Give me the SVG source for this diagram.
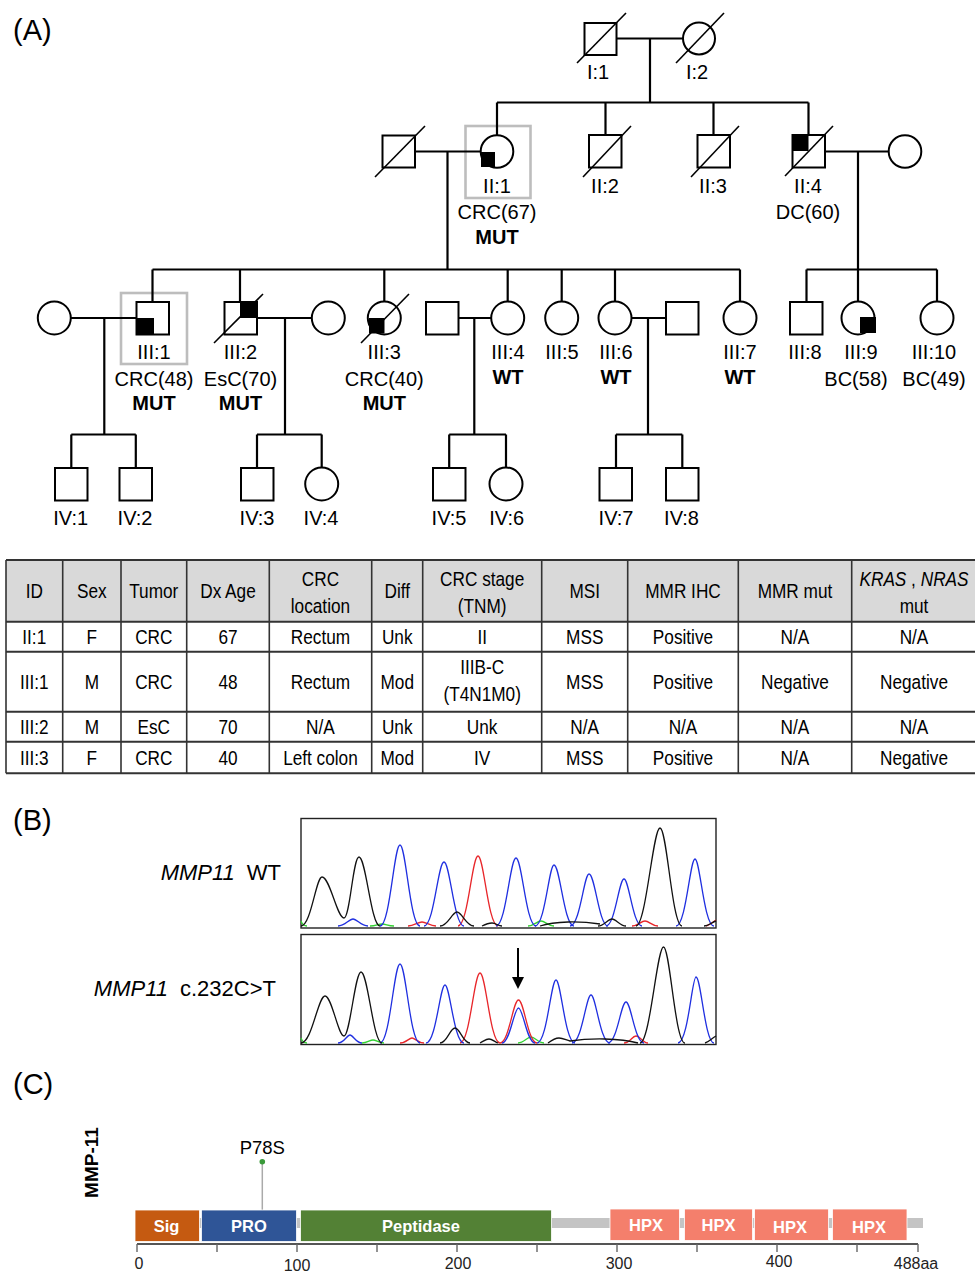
<svg xmlns="http://www.w3.org/2000/svg" width="975" height="1272" viewBox="0 0 975 1272">
<style>
text{font-family:"Liberation Sans",Arial,sans-serif;fill:#000}
.pl{font-size:29px}
.lb{font-size:20px;text-anchor:middle}
.b{font-weight:bold}
.sym{fill:#fff;stroke:#000;stroke-width:2}
.fill{fill:#000}
.sl{stroke:#000;stroke-width:1.6}
.ln{stroke:#000;stroke-width:2.2;fill:none}
.pb{fill:none;stroke:#bdbdbd;stroke-width:2.6}
.tt{font-size:20.5px;text-anchor:middle}
.tl{stroke:#333;stroke-width:2}
.tv{stroke:#333;stroke-width:1.6}
.ch{fill:none;stroke-width:1.3}
.k{stroke:#111}.bl{stroke:#1f2fe0}.rd{stroke:#e8262a}.gr{stroke:#32d232}
.dom{font-size:16.5px;font-weight:bold;fill:#fff;text-anchor:middle}
.ax{font-size:16px;fill:#222;text-anchor:middle}
</style>

<text class="pl" x="13" y="40">(A)</text>
<text class="pl" x="13" y="830">(B)</text>
<text class="pl" x="13" y="1094">(C)</text>

<!-- proband markers -->
<g id="proband-markers">
<rect class="pb" x="465.5" y="126" width="65" height="72"/>
<rect class="pb" x="121" y="293" width="66" height="71"/>
</g>

<!-- connectors -->
<g id="connectors" class="ln">
<path d="M617,38.5H683M650,38.5V102.5M497,102.5H808.5M497,102.5V135.5M605.5,102.5V135M713.5,102.5V135M808.5,102.5V135"/>
<path d="M415,151.5H481M447.5,151.5V269.5M152.5,269.5H740M152.5,269.5V302M240,269.5V302M384.3,269.5V301.5M507.7,269.5V301.5M561.7,269.5V301.5M615,269.5V301.5M740,269.5V301.5"/>
<path d="M825,151.5H889M858,151.5V269.5M806.5,269.5H937M806.5,269.5V302M858,269.5V301.5M937,269.5V301.5"/>
<path d="M71,318H136M104.3,318V434.5M71.3,434.5H135.8M71.3,434.5V468M135.8,434.5V468"/>
<path d="M257,318H312M285,318V434.5M257,434.5H321.7M257,434.5V468M321.7,434.5V467.5"/>
<path d="M458,318H491M474.3,318V434.5M449.2,434.5H506M449.2,434.5V468M506,434.5V467.5"/>
<path d="M631.5,318H666M648,318V434.5M616,434.5H682.3M616,434.5V468M682.3,434.5V468"/>
</g>

<!-- Generation I -->
<g id="I-1"><rect class="sym" x="584.5" y="23" width="32" height="32"/><line class="sl" x1="577" y1="63" x2="626" y2="13"/><text class="lb" x="598" y="79">I:1</text></g>
<g id="I-2"><circle class="sym" cx="699" cy="38.5" r="16"/><line class="sl" x1="676" y1="63" x2="724" y2="13"/><text class="lb" x="697" y="79">I:2</text></g>

<!-- Generation II -->
<g id="II-1-spouse"><rect class="sym" x="382.5" y="135.5" width="32.5" height="32"/><line class="sl" x1="375" y1="177" x2="425" y2="126"/></g>
<g id="II-1"><circle class="sym" cx="497" cy="151.5" r="16.3"/><rect class="fill" x="481" y="152" width="14" height="15"/><text class="lb" x="497" y="193">II:1</text><text class="lb" x="497" y="219">CRC(67)</text><text class="lb b" x="497" y="244">MUT</text></g>
<g id="II-2"><rect class="sym" x="589" y="135" width="32.5" height="32.5"/><line class="sl" x1="583" y1="177" x2="631" y2="126"/><text class="lb" x="605" y="193">II:2</text></g>
<g id="II-3"><rect class="sym" x="697.5" y="135" width="32.5" height="32.5"/><line class="sl" x1="691" y1="177" x2="739" y2="126"/><text class="lb" x="713" y="193">II:3</text></g>
<g id="II-4"><rect class="sym" x="792.5" y="135" width="32.5" height="32.5"/><rect class="fill" x="792.5" y="135" width="16" height="16"/><line class="sl" x1="785" y1="176" x2="833" y2="126"/><text class="lb" x="808" y="193">II:4</text><text class="lb" x="808" y="219">DC(60)</text></g>
<g id="II-4-spouse"><circle class="sym" cx="905" cy="151.5" r="16.3"/></g>

<!-- Generation III -->
<g id="III-1-spouse"><circle class="sym" cx="54.3" cy="318" r="16.5"/></g>
<g id="III-1"><rect class="sym" x="136.5" y="302" width="32.5" height="32.5"/><rect class="fill" x="136.5" y="318" width="17.5" height="16.5"/><text class="lb" x="154" y="359">III:1</text><text class="lb" x="154" y="386">CRC(48)</text><text class="lb b" x="154" y="410">MUT</text></g>
<g id="III-2"><rect class="sym" x="224.5" y="302" width="32.5" height="32.5"/><rect class="fill" x="240" y="302" width="17" height="16"/><line class="sl" x1="214" y1="343" x2="263" y2="294"/><text class="lb" x="240.5" y="359">III:2</text><text class="lb" x="240.5" y="386">EsC(70)</text><text class="lb b" x="240.5" y="410">MUT</text></g>
<g id="III-2-spouse"><circle class="sym" cx="328.3" cy="318" r="16.5"/></g>
<g id="III-3"><circle class="sym" cx="384.3" cy="318" r="16.5"/><rect class="fill" x="369" y="318" width="15.5" height="15.5"/><line class="sl" x1="361" y1="343" x2="409" y2="294"/><text class="lb" x="384.3" y="359">III:3</text><text class="lb" x="384.3" y="386">CRC(40)</text><text class="lb b" x="384.3" y="410">MUT</text></g>
<g id="III-4-spouse"><rect class="sym" x="426" y="302" width="32.5" height="32.5"/></g>
<g id="III-4"><circle class="sym" cx="507.7" cy="318" r="16.5"/><text class="lb" x="508" y="359">III:4</text><text class="lb b" x="508" y="384">WT</text></g>
<g id="III-5"><circle class="sym" cx="561.7" cy="318" r="16.5"/><text class="lb" x="562" y="359">III:5</text></g>
<g id="III-6"><circle class="sym" cx="615" cy="318" r="16.5"/><text class="lb" x="616" y="359">III:6</text><text class="lb b" x="616" y="384">WT</text></g>
<g id="III-6-spouse"><rect class="sym" x="666" y="302" width="32.5" height="32.5"/></g>
<g id="III-7"><circle class="sym" cx="740" cy="318" r="16.5"/><text class="lb" x="740" y="359">III:7</text><text class="lb b" x="740" y="384">WT</text></g>
<g id="III-8"><rect class="sym" x="790" y="302" width="32.5" height="32.5"/><text class="lb" x="805" y="359">III:8</text></g>
<g id="III-9"><circle class="sym" cx="858" cy="318" r="16.5"/><rect class="fill" x="860" y="317" width="16" height="16"/><text class="lb" x="861" y="359">III:9</text><text class="lb" x="856" y="386">BC(58)</text></g>
<g id="III-10"><circle class="sym" cx="937" cy="318" r="16.5"/><text class="lb" x="934" y="359">III:10</text><text class="lb" x="934" y="386">BC(49)</text></g>

<!-- Generation IV -->
<g id="IV-1"><rect class="sym" x="55" y="468" width="32.5" height="32.5"/><text class="lb" x="70.7" y="525">IV:1</text></g>
<g id="IV-2"><rect class="sym" x="119.5" y="468" width="32.5" height="32.5"/><text class="lb" x="135" y="525">IV:2</text></g>
<g id="IV-3"><rect class="sym" x="241" y="468" width="32.5" height="32.5"/><text class="lb" x="257" y="525">IV:3</text></g>
<g id="IV-4"><circle class="sym" cx="321.7" cy="484" r="16.5"/><text class="lb" x="321" y="525">IV:4</text></g>
<g id="IV-5"><rect class="sym" x="433" y="468" width="32.5" height="32.5"/><text class="lb" x="449" y="525">IV:5</text></g>
<g id="IV-6"><circle class="sym" cx="506" cy="484" r="16.5"/><text class="lb" x="506.7" y="525">IV:6</text></g>
<g id="IV-7"><rect class="sym" x="599.5" y="468" width="32.5" height="32.5"/><text class="lb" x="616" y="525">IV:7</text></g>
<g id="IV-8"><rect class="sym" x="666" y="468" width="32.5" height="32.5"/><text class="lb" x="681.5" y="525">IV:8</text></g>

<!-- Table -->
<g id="table">
<rect x="6" y="560" width="970" height="61.7" fill="#d9d9d9"/>
<path class="tl" d="M6,560H976M6,621.7H976M6,651.7H976M6,711.7H976M6,741.7H976M6,773.3H976"/>
<path class="tv" d="M6,560V773.3M62.7,560V773.3M121,560V773.3M186.7,560V773.3M269.3,560V773.3M371.7,560V773.3M422.7,560V773.3M541.7,560V773.3M627.7,560V773.3M738.3,560V773.3M851.7,560V773.3"/>
<g transform="scale(0.84,1)">
<text class="tt" x="40.8" y="598">ID</text>
<text class="tt" x="109.3" y="598">Sex</text>
<text class="tt" x="183.1" y="598">Tumor</text>
<text class="tt" x="271.4" y="598">Dx Age</text>
<text class="tt" x="381.5" y="586">CRC</text><text class="tt" x="381.5" y="613">location</text>
<text class="tt" x="472.9" y="598">Diff</text>
<text class="tt" x="574" y="586">CRC stage</text><text class="tt" x="574" y="613">(TNM)</text>
<text class="tt" x="696.1" y="598">MSI</text>
<text class="tt" x="813.1" y="598">MMR IHC</text>
<text class="tt" x="946.4" y="598">MMR mut</text>
<text class="tt" x="1088.1" y="586"><tspan font-style="italic">KRAS</tspan> , <tspan font-style="italic">NRAS</tspan></text><text class="tt" x="1088.1" y="613">mut</text>

<text class="tt" x="40.8" y="644">II:1</text><text class="tt" x="109.3" y="644">F</text><text class="tt" x="183.1" y="644">CRC</text><text class="tt" x="271.4" y="644">67</text><text class="tt" x="381.5" y="644">Rectum</text><text class="tt" x="472.9" y="644">Unk</text><text class="tt" x="574" y="644">II</text><text class="tt" x="696.1" y="644">MSS</text><text class="tt" x="813.1" y="644">Positive</text><text class="tt" x="946.4" y="644">N/A</text><text class="tt" x="1088.1" y="644">N/A</text>

<text class="tt" x="40.8" y="689">III:1</text><text class="tt" x="109.3" y="689">M</text><text class="tt" x="183.1" y="689">CRC</text><text class="tt" x="271.4" y="689">48</text><text class="tt" x="381.5" y="689">Rectum</text><text class="tt" x="472.9" y="689">Mod</text><text class="tt" x="574" y="674">IIIB-C</text><text class="tt" x="574" y="701">(T4N1M0)</text><text class="tt" x="696.1" y="689">MSS</text><text class="tt" x="813.1" y="689">Positive</text><text class="tt" x="946.4" y="689">Negative</text><text class="tt" x="1088.1" y="689">Negative</text>

<text class="tt" x="40.8" y="734">III:2</text><text class="tt" x="109.3" y="734">M</text><text class="tt" x="183.1" y="734">EsC</text><text class="tt" x="271.4" y="734">70</text><text class="tt" x="381.5" y="734">N/A</text><text class="tt" x="472.9" y="734">Unk</text><text class="tt" x="574" y="734">Unk</text><text class="tt" x="696.1" y="734">N/A</text><text class="tt" x="813.1" y="734">N/A</text><text class="tt" x="946.4" y="734">N/A</text><text class="tt" x="1088.1" y="734">N/A</text>

<text class="tt" x="40.8" y="765">III:3</text><text class="tt" x="109.3" y="765">F</text><text class="tt" x="183.1" y="765">CRC</text><text class="tt" x="271.4" y="765">40</text><text class="tt" x="381.5" y="765">Left colon</text><text class="tt" x="472.9" y="765">Mod</text><text class="tt" x="574" y="765">IV</text><text class="tt" x="696.1" y="765">MSS</text><text class="tt" x="813.1" y="765">Positive</text><text class="tt" x="946.4" y="765">N/A</text><text class="tt" x="1088.1" y="765">Negative</text>
</g>
</g>

<!-- Panel B -->
<g id="chromatogram-wt">
<text x="281" y="880" font-size="22" text-anchor="end"><tspan font-style="italic">MMP11</tspan><tspan dx="12">WT</tspan></text>
<rect x="301" y="818.5" width="415" height="109.5" fill="#fff" stroke="#222" stroke-width="1.4"/>
<g class="ch gr"><path d="M301,921 C302,924 304,926 307,926"/><path d="M370,926 C376,926 378,924 382,924 C386,924 388,926 394,926"/><path d="M528,926 C534,926 537,921 541,921 C545,921 548,926 554,926"/></g>
<g class="ch rd"><path d="M408,926 C414,926 418,922 422,922 C426,922 430,926 436,926"/><path d="M458,926 C468,926 472,856 478,856 C484,856 488,926 498,926"/><path d="M632,926 C638,926 641,921 645,921 C649,921 652,926 658,926"/><path d="M706,926 C710,925 713,922 716,920"/></g>
<g class="ch bl"><path d="M338,926 C345,926 349,919 353,919 C357,919 361,926 368,926"/><path d="M380,926 C390,926 394,845 400,845 C406,845 410,926 420,926"/><path d="M424,926 C434,926 438,862 444,862 C450,862 454,926 464,926"/><path d="M496,926 C506,926 510,858 516,858 C522,858 526,926 536,926"/><path d="M535,926 C545,926 549,865 554,865 C560,865 564,926 574,926"/><path d="M570,926 C580,926 584,874 589,874 C595,874 599,926 608,926"/><path d="M606,926 C615,926 619,879 624,879 C629,879 633,926 642,926"/><path d="M676,926 C686,926 690,859 695,859 C700,859 704,926 714,926"/></g>
<g class="ch k"><path d="M301,926 C311,926 316,877 322,877 C330,877 337,918 344,918 C350,918 353,857 359,857 C366,857 371,926 380,926"/><path d="M440,926 C448,926 452,912 457,912 C462,912 466,926 474,926"/><path d="M482,926 C486,924 489,923 492,923 C496,923 498,926 502,926"/><path d="M540,926 C555,921 580,921 600,924"/><path d="M598,926 C604,926 608,919 612,919 C616,919 620,926 626,926"/><path d="M636,926 C646,926 653,828 660,828 C667,828 672,926 682,926"/><path d="M704,926 C709,926 712,922 716,921"/></g>
</g>

<g id="chromatogram-mut">
<text x="276" y="996" font-size="22" text-anchor="end"><tspan font-style="italic">MMP11</tspan><tspan dx="12">c.232C&gt;T</tspan></text>
<rect x="301" y="934.5" width="415" height="110" fill="#fff" stroke="#222" stroke-width="1.4"/>
<g class="ch gr"><path d="M301,1038 C302,1041 304,1043 307,1043"/><path d="M362,1043 C367,1043 370,1040 373,1040 C376,1040 379,1043 384,1043"/><path d="M518,1043 C524,1043 527,1037 531,1037 C535,1037 538,1043 544,1043"/></g>
<g class="ch rd"><path d="M400,1043 C406,1043 409,1038 412,1038 C415,1038 418,1043 424,1043"/><path d="M460,1043 C470,1043 474,973 480,973 C486,973 490,1043 500,1043"/><path d="M500,1043 C509,1043 513,1000 518.5,1000 C524,1000 528,1043 537,1043"/><path d="M624,1043 C630,1043 632,1036 636,1036 C640,1036 643,1043 648,1043"/></g>
<g class="ch bl"><path d="M338,1043 C344,1043 347,1035 350,1035 C353,1035 356,1043 362,1043"/><path d="M380,1043 C390,1043 394,964 400,964 C406,964 410,1043 420,1043"/><path d="M426,1043 C436,1043 440,985 445,985 C450,985 454,1043 464,1043"/><path d="M502,1043 C510,1043 514,1008 518.5,1008 C523,1008 527,1043 535,1043"/><path d="M537,1043 C547,1043 551,980 556,980 C561,980 565,1043 575,1043"/><path d="M572,1043 C582,1043 586,995 591,995 C596,995 600,1043 610,1043"/><path d="M608,1043 C617,1043 621,1002 626,1002 C631,1002 635,1043 644,1043"/><path d="M678,1043 C688,1043 692,977 696,977 C701,977 705,1043 714,1043"/></g>
<g class="ch k"><path d="M301,1043 C312,1043 318,996 325,996 C332,996 338,1036 344,1036 C350,1036 355,972 361,972 C368,972 373,1043 382,1043"/><path d="M440,1043 C447,1043 450,1028 455,1028 C460,1028 463,1043 470,1043"/><path d="M480,1043 C484,1041 486,1039 489,1039 C492,1039 495,1042 498,1043"/><path d="M548,1043 C552,1040 555,1038 559,1038 C563,1038 566,1040 570,1041 C590,1038 620,1038 638,1043"/><path d="M640,1043 C650,1043 657,947 663.5,947 C670,947 675,1043 685,1043"/><path d="M705,1043 C709,1042 712,1038 716,1036"/></g>
<line x1="518" y1="948" x2="518" y2="980" stroke="#000" stroke-width="2"/>
<polygon points="512,977 524,977 518,989" fill="#000"/>
</g>

<!-- Panel C -->
<g id="protein">
<text transform="translate(98,1162.5) rotate(-90)" font-size="19" font-weight="bold" text-anchor="middle">MMP-11</text>
<rect x="135" y="1218" width="788" height="10" fill="#c4c4c4"/>
<line x1="262.3" y1="1162" x2="262.3" y2="1210" stroke="#aaa" stroke-width="1.5"/>
<circle cx="262.3" cy="1161.7" r="2.8" fill="#3a9a3a"/>
<text x="262.3" y="1154" font-size="18.5" text-anchor="middle">P78S</text>
<g id="domain-sig"><rect x="135" y="1210" width="64.5" height="31.5" fill="#c55a11" stroke="#fff" stroke-width="0.8"/><text class="dom" x="166.5" y="1232">Sig</text></g>
<g id="domain-pro"><rect x="201.5" y="1210" width="95" height="31.5" fill="#2f5597" stroke="#fff" stroke-width="0.8"/><text class="dom" x="249" y="1232">PRO</text></g>
<g id="domain-peptidase"><rect x="300.5" y="1210" width="251" height="31.5" fill="#538135" stroke="#fff" stroke-width="0.8"/><text class="dom" x="421" y="1231.5">Peptidase</text></g>
<g id="domain-hpx1"><rect x="610" y="1209" width="69.5" height="31.5" fill="#f47f6c" stroke="#fff" stroke-width="0.8"/><text class="dom" x="646" y="1230.5">HPX</text></g>
<g id="domain-hpx2"><rect x="684.5" y="1209" width="68" height="31.5" fill="#f47f6c" stroke="#fff" stroke-width="0.8"/><text class="dom" x="718.5" y="1230.5">HPX</text></g>
<g id="domain-hpx3"><rect x="754.5" y="1209" width="74" height="31.5" fill="#f47f6c" stroke="#fff" stroke-width="0.8"/><text class="dom" x="790" y="1232.5">HPX</text></g>
<g id="domain-hpx4"><rect x="832.5" y="1209" width="74.5" height="31.5" fill="#f47f6c" stroke="#fff" stroke-width="0.8"/><text class="dom" x="869" y="1232.5">HPX</text></g>
<line x1="137" y1="1244" x2="918" y2="1244" stroke="#555" stroke-width="2"/>
<path d="M137,1244V1252M217,1244V1252M297,1244V1252M377,1244V1252M457,1244V1252M537,1244V1252M617,1244V1252M697,1244V1252M777,1244V1252M857,1244V1252M918,1244V1252" stroke="#666" stroke-width="1.4"/>
<text class="ax" x="139" y="1269">0</text>
<text class="ax" x="297" y="1271">100</text>
<text class="ax" x="458" y="1268.5">200</text>
<text class="ax" x="619" y="1268.5">300</text>
<text class="ax" x="779" y="1267">400</text>
<text class="ax" x="916" y="1269">488aa</text>
</g>
</svg>
